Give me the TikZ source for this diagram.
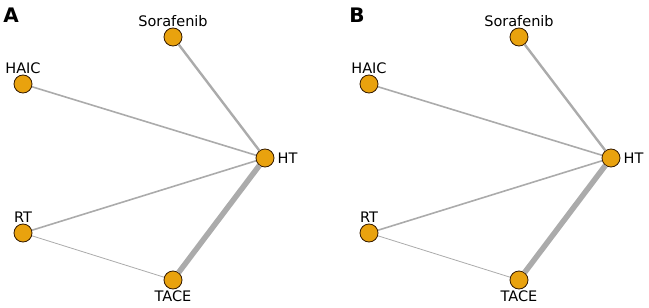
\documentclass[tikz,border=0pt]{standalone}
\usepackage{fontspec}
\setmainfont{DejaVu Sans}
\usepackage{xcolor}
\usetikzlibrary{positioning}
\definecolor{nodeorange}{HTML}{E9A20E}
\definecolor{edgegray}{HTML}{ABABAB}

\begin{document}
\begin{tikzpicture}[
    x=1pt, y=-1pt,
    every node/.style={font=\fontsize{14.5}{16}\selectfont},
    drug/.style={circle, draw=black!80!orange, fill=nodeorange, line width=0.8pt, minimum size=18pt, inner sep=0pt},
    every label/.style={inner sep=1pt, font=\fontsize{14.5}{16}\selectfont},
    panel/.style={font=\fontsize{20}{22}\selectfont\bfseries, inner sep=0pt},
    link/.style={draw=edgegray, line width=#1}
]
\useasboundingbox (0,0) rectangle (649,308);

% panel A
\node[panel] (lblA) at (11,15) {A};
\node[drug, label=above:Sorafenib] (sorA) at (173,37) {};
\node[drug, label=above:HAIC] (haicA) at (23,84) {};
\node[drug, label={[label distance=2pt]right:HT}] (htA) at (265,158) {};
\node[drug, label=above:RT] (rtA) at (23,233) {};
\node[drug, label=below:TACE] (taceA) at (173,280) {};

\draw[link=2.4pt] (sorA) -- (htA);
\draw[link=1.6pt] (haicA) -- (htA);
\draw[link=1.6pt] (rtA) -- (htA);
\draw[link=0.8pt] (rtA) -- (taceA);
\draw[link=5.5pt] (taceA) -- (htA);

% panel B
\node[panel] (lblB) at (357,15) {B};
\node[drug, label=above:Sorafenib] (sorB) at (519,37) {};
\node[drug, label=above:HAIC] (haicB) at (369,84) {};
\node[drug, label={[label distance=2pt]right:HT}] (htB) at (611,158) {};
\node[drug, label=above:RT] (rtB) at (369,233) {};
\node[drug, label=below:TACE] (taceB) at (519,280) {};

\draw[link=2.4pt] (sorB) -- (htB);
\draw[link=1.6pt] (haicB) -- (htB);
\draw[link=1.6pt] (rtB) -- (htB);
\draw[link=0.8pt] (rtB) -- (taceB);
\draw[link=5.5pt] (taceB) -- (htB);
\end{tikzpicture}
\end{document}
